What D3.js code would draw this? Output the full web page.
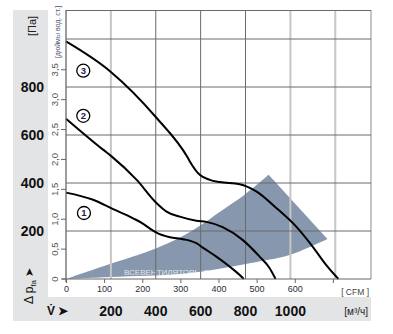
<!DOCTYPE html>
<html>
<head>
<meta charset="utf-8">
<script src="https://cdn.jsdelivr.net/npm/d3@7"></script>
<style>
  html, body { margin: 0; padding: 0; background: #fff; }
  svg { display: block; }
  .num { font-family: "Liberation Sans Narrow", "Liberation Sans", Arial, sans-serif; font-weight: bold; font-size: 14px; fill: #111; }
  .small { font-family: "Liberation Sans", Arial, sans-serif; font-size: 8.5px; fill: #444; }
</style>
</head>
<body>
<svg id="chart" width="393" height="334"></svg>
<script>
// Fan performance curves: static pressure (Pa) versus air flow (m³/h)
const curve1 = [[0,360],[121,330],[210,291],[299,253],[344,230],[374,210],[403,193],[463,174],[522,166],[581,149],[611,130],[670,93],[730,51],[789,3],[792,0]];
const curve2 = [[0,668],[165,539],[203,511],[315,413],[403,317],[448,281],[507,260],[581,243],[626,238],[698,216],[787,163],[863,93],[907,46],[934,0]];
const curve3 = [[0,990],[196,866],[403,672],[543,505],[552,490],[596,434],[641,413],[685,404],[774,395],[848,365],[937,296],[1026,218],[1099,135],[1160,58],[1214,0]];
const curveNames = ["1", "2", "3"];
const curveLabelPos = [[80,275],[77,680],[77,868]];

// Recommended operating zone: upper edge up to the apex, lower edge from the far corner back
const zoneUpper = [[0,0],[182,58],[405,129],[552,196],[698,288],[796,351],[903,434]];
const zoneLower = [[1165,167],[996,100],[850,71],[552,25],[196,8],[0,0]];

// Axis ticks
const paTicks = [200, 400, 600, 800];
const paGrid = [200, 400, 600, 800, 1000];
const inchTicks = [0, 0.5, 1.0, 1.5, 2.0, 2.5, 3.0, 3.5];
const flowTicks = [200, 400, 600, 800, 1000];
const flowGrid = [200, 400, 600, 800, 1000, 1200];
const flowGridDark = [400, 600, 800];
const cfmTicks = [0, 100, 200, 300, 400, 500, 600, 700];
const cfmLabelled = [0, 100, 200, 300, 400, 500, 600];

const CFM_TO_M3H = 1.699;
const INH2O_TO_PA = 249.09;

const svg = d3.select("#chart");

const x = d3.scaleLinear().domain([0, 800 * CFM_TO_M3H]).range([66, 371]);
const xCfm = d3.scaleLinear().domain([0, 800]).range([66, 371]);
const y = d3.scaleLinear().domain([0, 4.5 * INH2O_TO_PA]).range([279, 10]);
const yIn = d3.scaleLinear().domain([0, 4.5]).range([279, 10]);

// gray label panels
svg.append("rect").attr("x", 13).attr("y", 10).attr("width", 35).attr("height", 287).attr("fill", "#e3e4e6");
svg.append("rect").attr("x", 13).attr("y", 297).attr("width", 358).attr("height", 24).attr("fill", "#e3e4e6");

// operating zone: smooth edges joined by a straight right side
const edge = d3.line().x(d => x(d[0])).y(d => y(d[1])).curve(d3.curveCatmullRom.alpha(0.5));
const upperPath = edge(zoneUpper);
const lowerPath = edge(zoneLower).replace(/^M/, "L");
svg.append("path")
  .attr("d", upperPath + lowerPath + "Z")
  .attr("fill", "#8797ad");

// watermark on the zone
svg.append("text")
  .attr("x", 124).attr("y", 275)
  .attr("font-family", "Liberation Sans, Arial, sans-serif")
  .attr("font-size", 8).attr("fill", "#ffffff").attr("opacity", 0.75)
  .text("ВСЕВЕНТИЛЯТОРЫ.РФ");

// vertical grid
const grid = svg.append("g");
grid.selectAll("line.vg").data(flowGrid).join("line")
  .attr("x1", d => x(d)).attr("x2", d => x(d))
  .attr("y1", y.range()[1]).attr("y2", y.range()[0])
  .attr("stroke", d => flowGridDark.includes(d) ? "#6a6a6a" : "#c6c6c6")
  .attr("stroke-width", d => flowGridDark.includes(d) ? 1 : 2);
grid.append("line")
  .attr("x1", 371).attr("x2", 371).attr("y1", 10).attr("y2", 279)
  .attr("stroke", "#c6c6c6").attr("stroke-width", 2);

// horizontal grid
grid.selectAll("line.hg").data(paGrid).join("line")
  .attr("x1", 66).attr("x2", 371)
  .attr("y1", d => y(d)).attr("y2", d => y(d))
  .attr("stroke", "#6a6a6a").attr("stroke-width", 1);
grid.append("line")
  .attr("x1", 66).attr("x2", 371).attr("y1", 10.5).attr("y2", 10.5)
  .attr("stroke", "#6a6a6a").attr("stroke-width", 1);

// curves
const line = d3.line().x(d => x(d[0])).y(d => y(d[1])).curve(d3.curveMonotoneX);
[curve1, curve2, curve3].forEach(c => {
  svg.append("path").attr("d", line(c))
    .attr("fill", "none").attr("stroke", "#000").attr("stroke-width", 2);
});

// curve numbers
const marks = svg.append("g");
curveLabelPos.forEach((p, i) => {
  const g = marks.append("g").attr("transform", `translate(${x(p[0])},${y(p[1])})`);
  g.append("circle").attr("r", 6.5).attr("fill", "#fff").attr("stroke", "#000").attr("stroke-width", 1.3);
  g.append("text").attr("text-anchor", "middle").attr("dy", "0.36em")
    .attr("font-family", "Liberation Sans, Arial, sans-serif").attr("font-size", 9.5).attr("font-weight", "bold")
    .attr("fill", "#1a2350").text(curveNames[i]);
});

// axis lines
svg.append("line").attr("x1", 66).attr("x2", 66).attr("y1", 10).attr("y2", 282)
  .attr("stroke", "#666").attr("stroke-width", 1.3);

// CFM axis
const cfmAxis = d3.axisBottom(xCfm).tickValues(cfmTicks).tickSize(4).tickPadding(3)
  .tickFormat(d => cfmLabelled.includes(d) ? d : "");
const gx = svg.append("g").attr("transform", "translate(0,279)").call(cfmAxis);
gx.select(".domain").attr("stroke", "#666").attr("d", "M62,0H371");
gx.selectAll(".tick line").attr("stroke", "#666");
gx.selectAll(".tick text").attr("font-family", "Liberation Sans, Arial, sans-serif")
  .attr("font-size", 9).attr("fill", "#2b2b3a");
svg.append("text").attr("class", "small").attr("x", 369).attr("y", 295).attr("text-anchor", "end")
  .attr("fill", "#555").text("[ CFM ]");

// inch water column axis
const ig = svg.append("g");
ig.selectAll("line").data(inchTicks).join("line")
  .attr("x1", 61).attr("x2", 66).attr("y1", d => yIn(d)).attr("y2", d => yIn(d))
  .attr("stroke", "#666");
ig.selectAll("text").data(inchTicks).join("text")
  .attr("transform", d => `translate(58,${yIn(d)}) rotate(-90)`)
  .attr("text-anchor", "middle").attr("dy", "-0.05em")
  .attr("font-family", "Liberation Sans Narrow, Liberation Sans, Arial, sans-serif")
  .attr("font-size", 9.5).attr("fill", "#555")
  .text(d => d === 0 ? "0" : d3.format(".1f")(d).replace(".", ","));
svg.append("text")
  .attr("transform", "translate(60,32) rotate(-90)")
  .attr("text-anchor", "middle")
  .attr("font-family", "Liberation Sans Narrow, Liberation Sans, Arial, sans-serif")
  .attr("font-size", 7).attr("fill", "#4a5478")
  .text("[дюймы вод. ст.]");

// Pa axis
svg.selectAll("text.pa").data(paTicks).join("text").attr("class", "num")
  .attr("x", 44).attr("y", d => y(d)).attr("dy", "0.36em").attr("text-anchor", "end")
  .text(d => d);
svg.append("text")
  .attr("transform", "translate(32,26) rotate(-90)")
  .attr("text-anchor", "middle").attr("dy", "0.35em")
  .attr("font-family", "Liberation Sans, Arial, sans-serif").attr("font-size", 11).attr("fill", "#222")
  .text("[Па]");
const dp = svg.append("text")
  .attr("transform", "translate(33,304) rotate(-90)")
  .attr("font-family", "Liberation Sans, Arial, sans-serif").attr("font-size", 12).attr("fill", "#111");
dp.append("tspan").text("Δ p");
dp.append("tspan").attr("font-size", 8).attr("dy", 3).text("fa");
dp.append("tspan").attr("dy", -3).attr("font-size", 11).text(" ➤");

// flow axis (m³/h)
svg.selectAll("text.flow").data(flowTicks).join("text").attr("class", "num")
  .attr("x", d => x(d)).attr("y", 311).attr("dy", "0.36em").attr("text-anchor", "middle")
  .text(d => d);
svg.append("text").attr("x", 47).attr("y", 315)
  .attr("font-family", "Liberation Sans, Arial, sans-serif").attr("font-size", 12).attr("font-weight", "bold").attr("fill", "#111")
  .text("V̇ ➤");
svg.append("text").attr("x", 368).attr("y", 315).attr("text-anchor", "end")
  .attr("font-family", "Liberation Sans Narrow, Liberation Sans, Arial, sans-serif").attr("font-size", 10).attr("fill", "#222")
  .text("[м³/ч]");
</script>
</body>
</html>
